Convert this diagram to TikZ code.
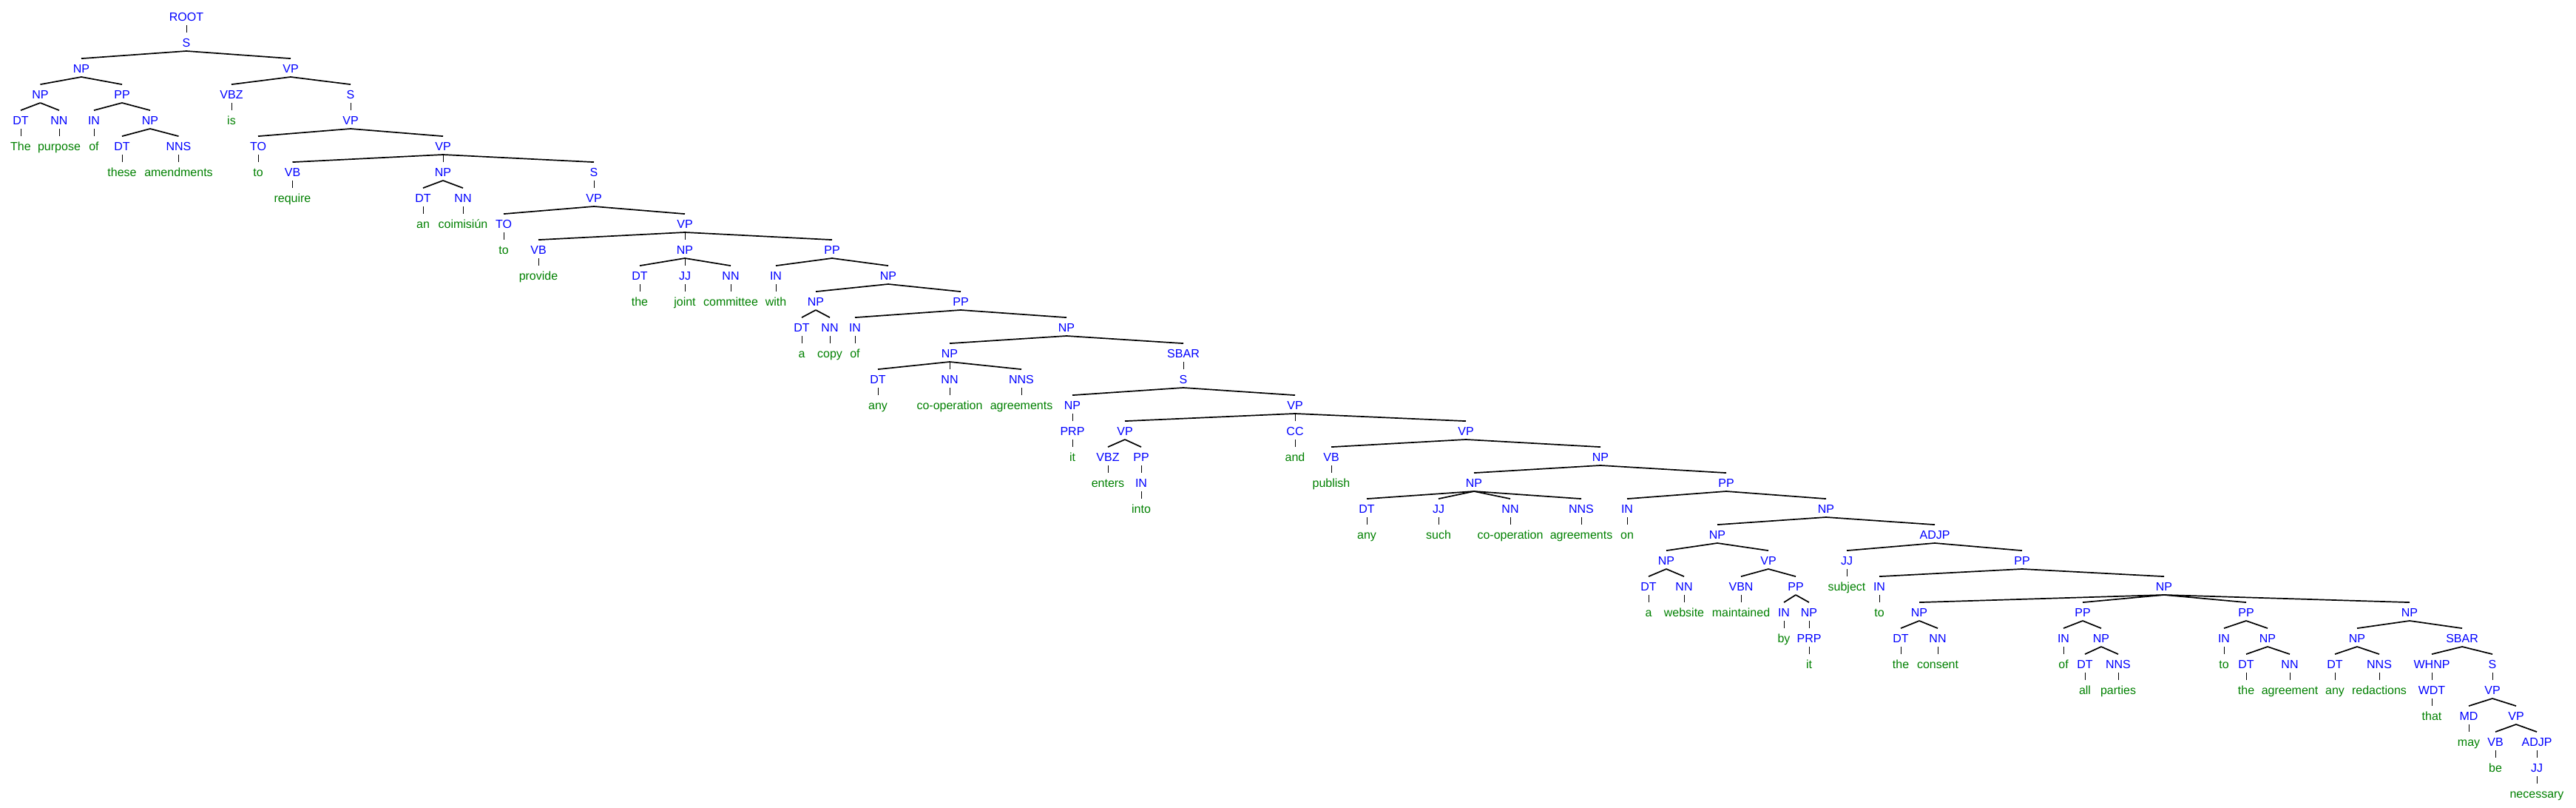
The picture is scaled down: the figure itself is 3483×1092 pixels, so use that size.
\documentclass[tikz,border=0pt]{standalone}
\usepackage{fontspec}
\setmainfont{Liberation Sans}
\definecolor{lblue}{RGB}{0,0,255}
\definecolor{wgreen}{RGB}{0,128,0}
\newcommand\tn[4]{\node[lab] (#1) at (#2pt,{-28.3pt-35pt*#3}) {#4};}
\newcommand\tw[4]{\node[wd] (#1) at (#2pt,{-28.3pt-35pt*#3}) {#4};}
\newcommand\te[2]{\draw[br] ([yshift=-5.5pt]#1.south) -- ([yshift=7pt]#2.north);}
\newcommand\tv[2]{\draw[un] ([yshift=-5.5pt]#1.south) -- ([yshift=7pt]#2.north);}
\tikzset{
  lab/.style={font=\fontsize{16pt}{18pt}\selectfont, text=lblue, inner sep=0pt, anchor=base, text height=12pt, text depth=0pt},
  wd/.style={lab, text=wgreen},
  br/.style={draw=black, line width=1.7pt},
  un/.style={draw=black, line width=0.9pt}
}
\begin{document}
\begin{tikzpicture}
\useasboundingbox (0,0) rectangle (3483pt,-1092pt);
\tn{r}{252}{0}{ROOT}
\tn{s1}{252}{1}{S}
\tn{np1}{110}{2}{NP}
\tn{np2}{54.5}{3}{NP}
\tn{dt1}{28}{4}{DT} \tw{w1}{28}{5}{The}
\tn{nn1}{80}{4}{NN} \tw{w2}{80}{5}{purpose}
\tn{pp1}{165}{3}{PP}
\tn{in1}{127}{4}{IN} \tw{w3}{127}{5}{of}
\tn{np3}{203}{4}{NP}
\tn{dt2}{165}{5}{DT} \tw{w4}{165}{6}{these}
\tn{nns1}{241.5}{5}{NNS} \tw{w5}{241.5}{6}{amendments}
\tn{vp1}{393}{2}{VP}
\tn{vbz1}{313}{3}{VBZ} \tw{w6}{313}{4}{is}
\tn{s2}{474}{3}{S}
\tn{vp2}{474}{4}{VP}
\tn{to1}{349}{5}{TO} \tw{w7}{349}{6}{to}
\tn{vp3}{599}{5}{VP}
\tn{vb1}{395.5}{6}{VB} \tw{w8}{395.5}{7}{require}
\tn{np4}{599}{6}{NP}
\tn{dt3}{572}{7}{DT} \tw{w9}{572}{8}{an}
\tn{nn2}{626}{7}{NN} \tw{w10}{626}{8}{coimisiún}
\tn{s3}{803}{6}{S}
\tn{vp4}{803}{7}{VP}
\tn{to2}{681}{8}{TO} \tw{w11}{681}{9}{to}
\tn{vp5}{926}{8}{VP}
\tn{vb2}{728}{9}{VB} \tw{w12}{728}{10}{provide}
\tn{np5}{926}{9}{NP}
\tn{dt4}{865}{10}{DT} \tw{w13}{865}{11}{the}
\tn{jj1}{926}{10}{JJ} \tw{w14}{926}{11}{joint}
\tn{nn3}{988}{10}{NN} \tw{w15}{988}{11}{committee}
\tn{pp2}{1125}{9}{PP}
\tn{in2}{1049}{10}{IN} \tw{w16}{1049}{11}{with}
\tn{np6}{1201}{10}{NP}
\tn{np7}{1103}{11}{NP}
\tn{dt5}{1084}{12}{DT} \tw{w17}{1084}{13}{a}
\tn{nn4}{1122}{12}{NN} \tw{w18}{1122}{13}{copy}
\tn{pp3}{1299}{11}{PP}
\tn{in3}{1156}{12}{IN} \tw{w19}{1156}{13}{of}
\tn{np8}{1442}{12}{NP}
\tn{np9}{1284}{13}{NP}
\tn{dt6}{1187}{14}{DT} \tw{w20}{1187}{15}{any}
\tn{nn5}{1284}{14}{NN} \tw{w21}{1284}{15}{co-operation}
\tn{nns2}{1381}{14}{NNS} \tw{w22}{1381}{15}{agreements}
\tn{sbar1}{1600}{13}{SBAR}
\tn{s4}{1600}{14}{S}
\tn{np10}{1450}{15}{NP}
\tn{prp1}{1450}{16}{PRP} \tw{w23}{1450}{17}{it}
\tn{vp6}{1751}{15}{VP}
\tn{vp7}{1521}{16}{VP}
\tn{vbz2}{1498}{17}{VBZ} \tw{w24}{1498}{18}{enters}
\tn{pp4}{1543}{17}{PP}
\tn{in4}{1543}{18}{IN} \tw{w25}{1543}{19}{into}
\tn{cc1}{1751}{16}{CC} \tw{w26}{1751}{17}{and}
\tn{vp8}{1982}{16}{VP}
\tn{vb3}{1800}{17}{VB} \tw{w27}{1800}{18}{publish}
\tn{np11}{2164}{17}{NP}
\tn{np12}{1993}{18}{NP}
\tn{dt7}{1848}{19}{DT} \tw{w28}{1848}{20}{any}
\tn{jj2}{1945}{19}{JJ} \tw{w29}{1945}{20}{such}
\tn{nn6}{2042}{19}{NN} \tw{w30}{2042}{20}{co-operation}
\tn{nns3}{2138}{19}{NNS} \tw{w31}{2138}{20}{agreements}
\tn{pp5}{2334}{18}{PP}
\tn{in5}{2200}{19}{IN} \tw{w32}{2200}{20}{on}
\tn{np13}{2469}{19}{NP}
\tn{np14}{2322}{20}{NP}
\tn{np15}{2253}{21}{NP}
\tn{dt8}{2229}{22}{DT} \tw{w33}{2229}{23}{a}
\tn{nn7}{2277}{22}{NN} \tw{w34}{2277}{23}{website}
\tn{vp9}{2391}{21}{VP}
\tn{vbn1}{2354}{22}{VBN} \tw{w35}{2354}{23}{maintained}
\tn{pp6}{2428}{22}{PP}
\tn{in6}{2412}{23}{IN} \tw{w36}{2412}{24}{by}
\tn{np16}{2446}{23}{NP}
\tn{prp2}{2446}{24}{PRP} \tw{w37}{2446}{25}{it}
\tn{adjp1}{2616}{20}{ADJP}
\tn{jj3}{2497}{21}{JJ} \tw{w38}{2497}{22}{subject}
\tn{pp7}{2734}{21}{PP}
\tn{in7}{2541}{22}{IN} \tw{w39}{2541}{23}{to}
\tn{np17}{2926}{22}{NP}
\tn{np18}{2595}{23}{NP}
\tn{dt9}{2570}{24}{DT} \tw{w40}{2570}{25}{the}
\tn{nn8}{2620}{24}{NN} \tw{w41}{2620}{25}{consent}
\tn{pp8}{2816}{23}{PP}
\tn{in8}{2790}{24}{IN} \tw{w42}{2790}{25}{of}
\tn{np19}{2841}{24}{NP}
\tn{dt10}{2819}{25}{DT} \tw{w43}{2819}{26}{all}
\tn{nns4}{2864}{25}{NNS} \tw{w44}{2864}{26}{parties}
\tn{pp9}{3037}{23}{PP}
\tn{in9}{3007}{24}{IN} \tw{w45}{3007}{25}{to}
\tn{np20}{3066}{24}{NP}
\tn{dt11}{3037}{25}{DT} \tw{w46}{3037}{26}{the}
\tn{nn9}{3096}{25}{NN} \tw{w47}{3096}{26}{agreement}
\tn{np21}{3258}{23}{NP}
\tn{np22}{3187}{24}{NP}
\tn{dt12}{3157}{25}{DT} \tw{w48}{3157}{26}{any}
\tn{nns5}{3217}{25}{NNS} \tw{w49}{3217}{26}{redactions}
\tn{sbar2}{3329}{24}{SBAR}
\tn{whnp1}{3288}{25}{WHNP}
\tn{wdt1}{3288}{26}{WDT} \tw{w50}{3288}{27}{that}
\tn{s5}{3370}{25}{S}
\tn{vp10}{3370}{26}{VP}
\tn{md1}{3338}{27}{MD} \tw{w51}{3338}{28}{may}
\tn{vp11}{3402}{27}{VP}
\tn{vb4}{3374}{28}{VB} \tw{w52}{3374}{29}{be}
\tn{adjp2}{3430}{28}{ADJP}
\tn{jj4}{3430}{29}{JJ} \tw{w53}{3430}{30}{necessary}
% edges
\tv{r}{s1}
\te{s1}{np1} \te{s1}{vp1}
\te{np1}{np2} \te{np1}{pp1}
\te{np2}{dt1} \te{np2}{nn1}
\tv{dt1}{w1} \tv{nn1}{w2}
\te{pp1}{in1} \te{pp1}{np3}
\tv{in1}{w3}
\te{np3}{dt2} \te{np3}{nns1}
\tv{dt2}{w4} \tv{nns1}{w5}
\te{vp1}{vbz1} \te{vp1}{s2}
\tv{vbz1}{w6}
\tv{s2}{vp2}
\te{vp2}{to1} \te{vp2}{vp3}
\tv{to1}{w7}
\te{vp3}{vb1} \tv{vp3}{np4} \te{vp3}{s3}
\tv{vb1}{w8}
\te{np4}{dt3} \te{np4}{nn2}
\tv{dt3}{w9} \tv{nn2}{w10}
\tv{s3}{vp4}
\te{vp4}{to2} \te{vp4}{vp5}
\tv{to2}{w11}
\te{vp5}{vb2} \tv{vp5}{np5} \te{vp5}{pp2}
\tv{vb2}{w12}
\te{np5}{dt4} \tv{np5}{jj1} \te{np5}{nn3}
\tv{dt4}{w13} \tv{jj1}{w14} \tv{nn3}{w15}
\te{pp2}{in2} \te{pp2}{np6}
\tv{in2}{w16}
\te{np6}{np7} \te{np6}{pp3}
\te{np7}{dt5} \te{np7}{nn4}
\tv{dt5}{w17} \tv{nn4}{w18}
\te{pp3}{in3} \te{pp3}{np8}
\tv{in3}{w19}
\te{np8}{np9} \te{np8}{sbar1}
\te{np9}{dt6} \tv{np9}{nn5} \te{np9}{nns2}
\tv{dt6}{w20} \tv{nn5}{w21} \tv{nns2}{w22}
\tv{sbar1}{s4}
\te{s4}{np10} \te{s4}{vp6}
\tv{np10}{prp1} \tv{prp1}{w23}
\te{vp6}{vp7} \tv{vp6}{cc1} \te{vp6}{vp8}
\te{vp7}{vbz2} \te{vp7}{pp4}
\tv{vbz2}{w24} \tv{pp4}{in4} \tv{in4}{w25}
\tv{cc1}{w26}
\te{vp8}{vb3} \te{vp8}{np11}
\tv{vb3}{w27}
\te{np11}{np12} \te{np11}{pp5}
\te{np12}{dt7} \te{np12}{jj2} \te{np12}{nn6} \te{np12}{nns3}
\tv{dt7}{w28} \tv{jj2}{w29} \tv{nn6}{w30} \tv{nns3}{w31}
\te{pp5}{in5} \te{pp5}{np13}
\tv{in5}{w32}
\te{np13}{np14} \te{np13}{adjp1}
\te{np14}{np15} \te{np14}{vp9}
\te{np15}{dt8} \te{np15}{nn7}
\tv{dt8}{w33} \tv{nn7}{w34}
\te{vp9}{vbn1} \te{vp9}{pp6}
\tv{vbn1}{w35}
\te{pp6}{in6} \te{pp6}{np16}
\tv{in6}{w36} \tv{np16}{prp2} \tv{prp2}{w37}
\te{adjp1}{jj3} \te{adjp1}{pp7}
\tv{jj3}{w38}
\te{pp7}{in7} \te{pp7}{np17}
\tv{in7}{w39}
\te{np17}{np18} \te{np17}{pp8} \te{np17}{pp9} \te{np17}{np21}
\te{np18}{dt9} \te{np18}{nn8}
\tv{dt9}{w40} \tv{nn8}{w41}
\te{pp8}{in8} \te{pp8}{np19}
\tv{in8}{w42}
\te{np19}{dt10} \te{np19}{nns4}
\tv{dt10}{w43} \tv{nns4}{w44}
\te{pp9}{in9} \te{pp9}{np20}
\tv{in9}{w45}
\te{np20}{dt11} \te{np20}{nn9}
\tv{dt11}{w46} \tv{nn9}{w47}
\te{np21}{np22} \te{np21}{sbar2}
\te{np22}{dt12} \te{np22}{nns5}
\tv{dt12}{w48} \tv{nns5}{w49}
\te{sbar2}{whnp1} \te{sbar2}{s5}
\tv{whnp1}{wdt1} \tv{wdt1}{w50}
\tv{s5}{vp10}
\te{vp10}{md1} \te{vp10}{vp11}
\tv{md1}{w51}
\te{vp11}{vb4} \te{vp11}{adjp2}
\tv{vb4}{w52} \tv{adjp2}{jj4} \tv{jj4}{w53}
\end{tikzpicture}
\end{document}
